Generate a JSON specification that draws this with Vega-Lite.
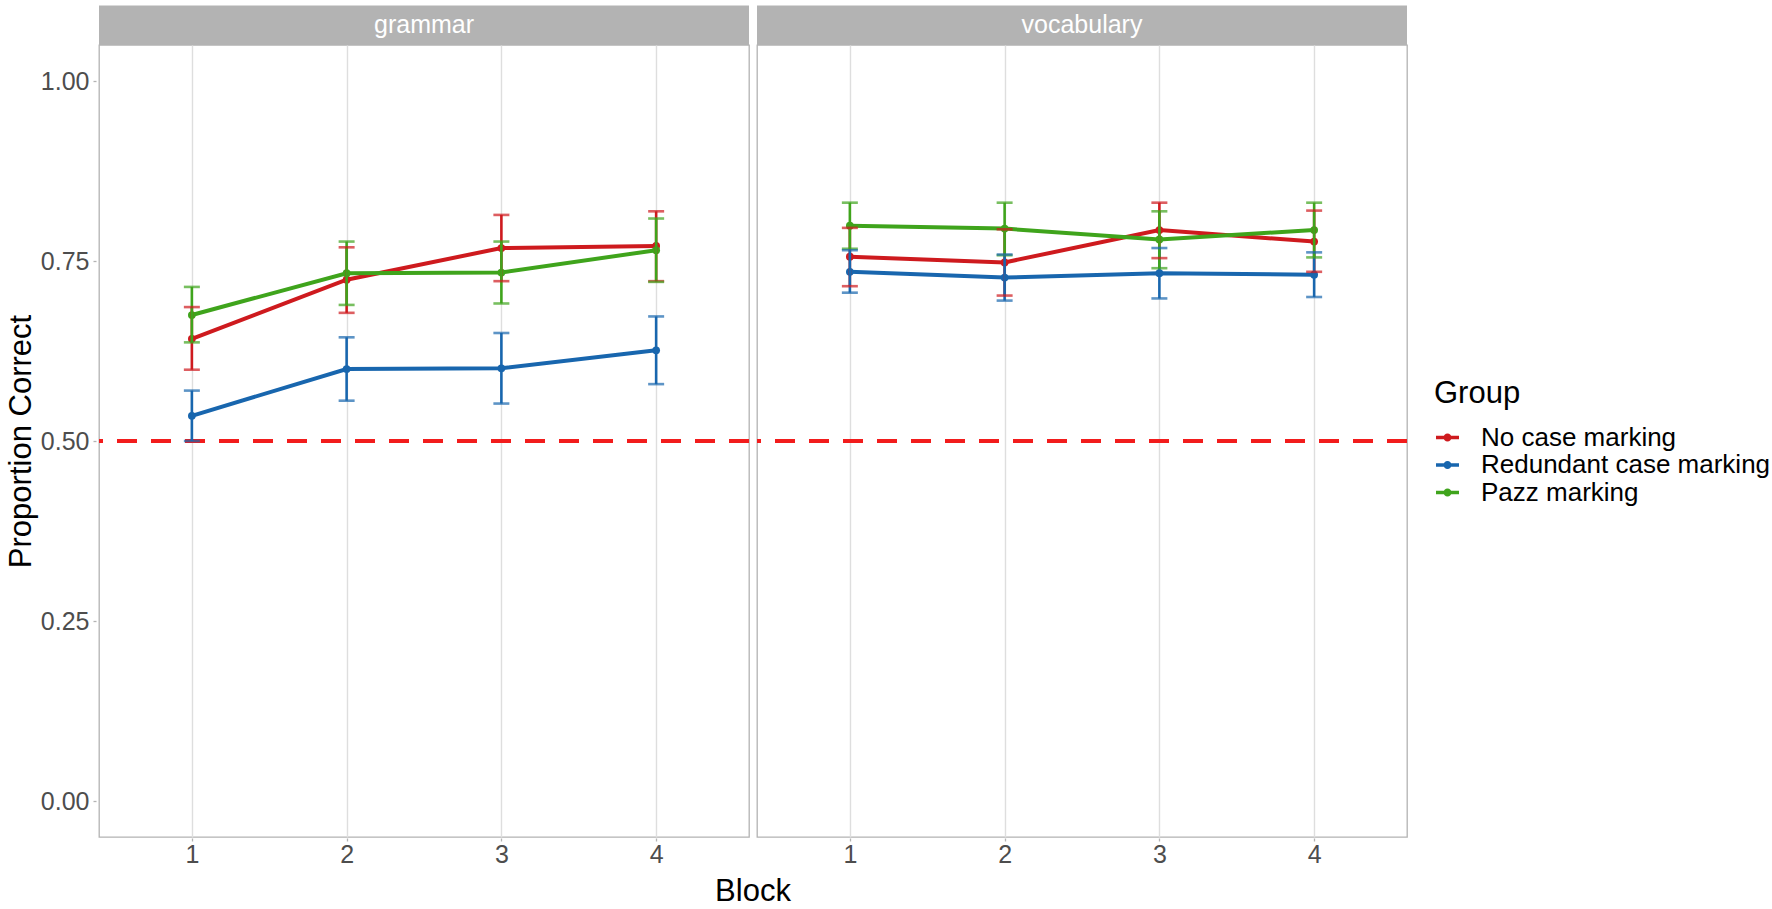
{
  "$schema": "https://vega.github.io/schema/vega-lite/v6.json",
  "background": "white",
  "padding": {"left": 5, "top": 4, "right": 5, "bottom": 0},
  "data": {"values": [
    {"task": "grammar", "Block": 1, "Group": "No case marking", "mean": 0.642, "lo": 0.599, "hi": 0.686},
    {"task": "grammar", "Block": 2, "Group": "No case marking", "mean": 0.724, "lo": 0.678, "hi": 0.769},
    {"task": "grammar", "Block": 3, "Group": "No case marking", "mean": 0.768, "lo": 0.722, "hi": 0.814},
    {"task": "grammar", "Block": 4, "Group": "No case marking", "mean": 0.771, "lo": 0.722, "hi": 0.819},
    {"task": "grammar", "Block": 1, "Group": "Redundant case marking", "mean": 0.535, "lo": 0.500, "hi": 0.570},
    {"task": "grammar", "Block": 2, "Group": "Redundant case marking", "mean": 0.600, "lo": 0.556, "hi": 0.644},
    {"task": "grammar", "Block": 3, "Group": "Redundant case marking", "mean": 0.601, "lo": 0.552, "hi": 0.650},
    {"task": "grammar", "Block": 4, "Group": "Redundant case marking", "mean": 0.626, "lo": 0.579, "hi": 0.673},
    {"task": "grammar", "Block": 1, "Group": "Pazz marking", "mean": 0.675, "lo": 0.637, "hi": 0.714},
    {"task": "grammar", "Block": 2, "Group": "Pazz marking", "mean": 0.733, "lo": 0.689, "hi": 0.777},
    {"task": "grammar", "Block": 3, "Group": "Pazz marking", "mean": 0.734, "lo": 0.691, "hi": 0.777},
    {"task": "grammar", "Block": 4, "Group": "Pazz marking", "mean": 0.765, "lo": 0.721, "hi": 0.809},
    {"task": "vocabulary", "Block": 1, "Group": "No case marking", "mean": 0.756, "lo": 0.715, "hi": 0.796},
    {"task": "vocabulary", "Block": 2, "Group": "No case marking", "mean": 0.748, "lo": 0.702, "hi": 0.794},
    {"task": "vocabulary", "Block": 3, "Group": "No case marking", "mean": 0.793, "lo": 0.754, "hi": 0.831},
    {"task": "vocabulary", "Block": 4, "Group": "No case marking", "mean": 0.777, "lo": 0.735, "hi": 0.820},
    {"task": "vocabulary", "Block": 1, "Group": "Redundant case marking", "mean": 0.735, "lo": 0.706, "hi": 0.765},
    {"task": "vocabulary", "Block": 2, "Group": "Redundant case marking", "mean": 0.727, "lo": 0.695, "hi": 0.759},
    {"task": "vocabulary", "Block": 3, "Group": "Redundant case marking", "mean": 0.733, "lo": 0.698, "hi": 0.768},
    {"task": "vocabulary", "Block": 4, "Group": "Redundant case marking", "mean": 0.731, "lo": 0.700, "hi": 0.762},
    {"task": "vocabulary", "Block": 1, "Group": "Pazz marking", "mean": 0.799, "lo": 0.767, "hi": 0.831},
    {"task": "vocabulary", "Block": 2, "Group": "Pazz marking", "mean": 0.795, "lo": 0.758, "hi": 0.831},
    {"task": "vocabulary", "Block": 3, "Group": "Pazz marking", "mean": 0.780, "lo": 0.740, "hi": 0.819},
    {"task": "vocabulary", "Block": 4, "Group": "Pazz marking", "mean": 0.793, "lo": 0.755, "hi": 0.831}
  ]},
  "facet": {
    "column": {
      "field": "task", "type": "nominal", "title": "Block",
      "header": {"labels": false, "titleOrient": "bottom", "titleFontSize": 31, "titleFont": "Liberation Sans", "titleColor": "black", "titleFontWeight": "normal", "titlePadding": 0}
    }
  },
  "spacing": 2,
  "spec": {
    "width": 650,
    "height": 792,
    "encoding": {
      "x": {"field": "Block", "type": "quantitative", "scale": {"domain": [0.4, 4.6], "nice": false, "zero": false},
        "axis": {"values": [1, 2, 3, 4], "format": "d", "title": null, "labelPadding": 1}},
      "color": {"field": "Group", "type": "nominal",
        "scale": {"domain": ["No case marking", "Redundant case marking", "Pazz marking"], "range": ["#CE1A1E", "#1866AE", "#3FA41C"]},
        "legend": {"title": "Group", "orient": "none", "legendX": 1335, "legendY": 334,
          "symbolType": "M-1,0H1M-0.2,0A0.2,0.2,0,1,0,0.2,0A0.2,0.2,0,1,0,-0.2,0",
          "symbolSize": 529, "symbolStrokeWidth": 3.5, "titleFontSize": 31, "labelFontSize": 26, "labelLimit": 0, "titlePadding": 14, "rowPadding": 0.5, "labelOffset": 20}}
    },
    "layer": [
      {
        "transform": [{"filter": "datum.Block == 1 && datum.Group == 'No case marking'"}],
        "mark": {"type": "rect", "fill": "#B3B3B3", "clip": false},
        "encoding": {
          "x": {"datum": 0.4, "type": "quantitative"},
          "x2": {"datum": 4.6},
          "y": {"datum": 1.05, "type": "quantitative", "scale": {"domain": [-0.05, 1.05], "nice": false, "zero": false}, "title": "Proportion Correct"},
          "y2": {"datum": 1.105},
          "color": null
        }
      },
      {
        "transform": [{"filter": "datum.Block == 1 && datum.Group == 'No case marking'"}],
        "mark": {"type": "text", "color": "white", "fontSize": 25, "font": "Liberation Sans", "baseline": "middle", "align": "center"},
        "encoding": {
          "x": {"datum": 2.5, "type": "quantitative"},
          "y": {"datum": 1.0775, "type": "quantitative", "scale": {"domain": [-0.05, 1.05], "nice": false, "zero": false}, "title": "Proportion Correct"},
          "text": {"field": "task"},
          "color": null
        }
      },
      {
        "transform": [{"filter": "datum.Block == 1 && datum.Group == 'No case marking'"}],
        "mark": {"type": "rule", "color": "#F21C1C", "strokeWidth": 4, "strokeDash": [20, 14]},
        "encoding": {"y": {"datum": 0.5, "type": "quantitative", "scale": {"domain": [-0.05, 1.05], "nice": false, "zero": false}, "title": "Proportion Correct"}, "x": null, "color": null}
      },
      {
        "mark": {"type": "line", "strokeWidth": 4},
        "encoding": {"y": {"field": "mean", "type": "quantitative", "scale": {"domain": [-0.05, 1.05], "nice": false, "zero": false}, "title": "Proportion Correct",
          "axis": {"values": [0, 0.125, 0.25, 0.375, 0.5, 0.625, 0.75, 0.875, 1],
            "labelPadding": 4,
            "labelExpr": "datum.value % 0.25 === 0 ? format(datum.value, '.2f') : ''",
            "tickOpacity": {"condition": {"test": "datum.value % 0.25 === 0", "value": 1}, "value": 0},
            "gridWidth": {"condition": {"test": "datum.value % 0.25 === 0", "value": 1.4}, "value": 0.8},
            "gridColor": {"condition": {"test": "datum.value % 0.25 === 0", "value": "#DEDEDE"}, "value": "#EBEBEB"}}}}
      },
      {
        "mark": {"type": "circle", "size": 60, "opacity": 1},
        "encoding": {"y": {"field": "mean", "type": "quantitative", "scale": {"domain": [-0.05, 1.05], "nice": false, "zero": false}, "title": "Proportion Correct"}}
      },
      {
        "mark": {"type": "rule", "strokeWidth": 2.6},
        "encoding": {"y": {"field": "lo", "type": "quantitative", "scale": {"domain": [-0.05, 1.05], "nice": false, "zero": false}, "title": "Proportion Correct"}, "y2": {"field": "hi"}}
      },
      {
        "mark": {"type": "tick", "orient": "horizontal", "size": 16, "thickness": 2.6},
        "encoding": {"y": {"field": "lo", "type": "quantitative", "scale": {"domain": [-0.05, 1.05], "nice": false, "zero": false}, "title": "Proportion Correct"}}
      },
      {
        "mark": {"type": "tick", "orient": "horizontal", "size": 16, "thickness": 2.6},
        "encoding": {"y": {"field": "hi", "type": "quantitative", "scale": {"domain": [-0.05, 1.05], "nice": false, "zero": false}, "title": "Proportion Correct"}}
      }
    ]
  },
  "config": {
    "font": "Liberation Sans",
    "view": {"stroke": "#B3B3B3", "strokeWidth": 1.3},
    "axis": {
      "labelFont": "Liberation Sans", "labelFontSize": 25, "labelColor": "#4D4D4D",
      "titleFont": "Liberation Sans", "titleFontSize": 31, "titleColor": "black", "titleFontWeight": "normal",
      "tickColor": "#B3B3B3", "tickSize": 3, "tickWidth": 1.3, "domain": false,
      "gridColor": "#DEDEDE", "gridWidth": 1.4
    },
    "axisY": {"titlePadding": 3},
    "legend": {"titleFont": "Liberation Sans", "labelFont": "Liberation Sans", "titleColor": "black", "labelColor": "black", "titleFontWeight": "normal"}
  }
}
